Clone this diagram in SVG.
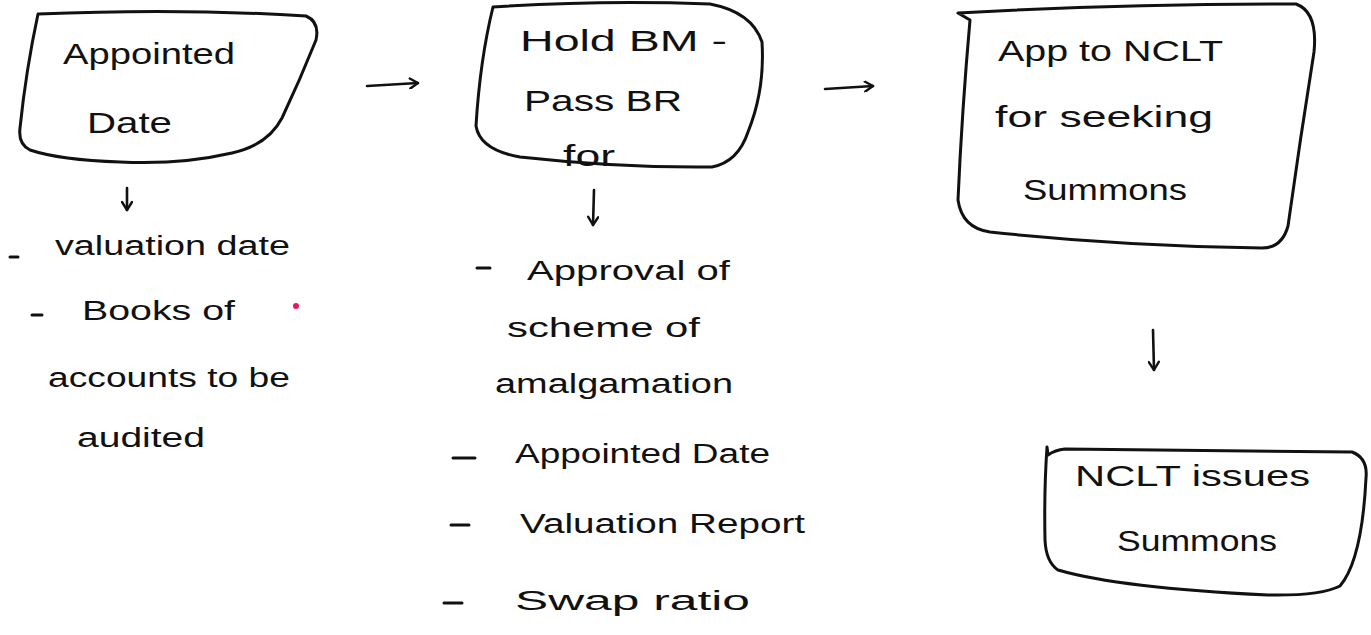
<svg xmlns="http://www.w3.org/2000/svg" width="1371" height="635" viewBox="0 0 1371 635">
  <defs>
    <style>
      .box { fill: none; stroke: #111; stroke-width: 3; stroke-linejoin: round; stroke-linecap: round; }
      .link { fill: none; stroke: #111; stroke-width: 2.6; stroke-linecap: round; }
      .hand { font-family: "Liberation Sans", "DejaVu Sans", sans-serif; font-size: 29px; fill: #111; }
      .note { font-family: "Liberation Sans", "DejaVu Sans", sans-serif; font-size: 27px; fill: #111; }
      .dash { stroke: #111; stroke-width: 3; stroke-linecap: round; }
    </style>
    <marker id="head" viewBox="0 0 12 12" refX="10" refY="6" markerWidth="12" markerHeight="12" markerUnits="userSpaceOnUse" orient="auto">
      <path d="M2,1 L10,6 L2,11" fill="none" stroke="#111" stroke-width="2.4" stroke-linecap="round" stroke-linejoin="round"/>
    </marker>
  </defs>

  <rect width="1371" height="635" fill="#fff"/>

  <!-- Step 1 -->
  <g id="node-appointed-date">
    <path class="box" d="M38,14 Q180,8 306,16 Q320,22 316,40 Q300,80 282,118 Q268,145 232,153 Q180,165 120,162 Q60,160 30,150 Q18,144 20,128 Q26,70 38,14 Z"/>
    <text class="hand" x="63" y="64" textLength="172" lengthAdjust="spacingAndGlyphs">Appointed</text>
    <text class="hand" x="87" y="133" textLength="85" lengthAdjust="spacingAndGlyphs">Date</text>
  </g>

  <!-- Step 2 -->
  <g id="node-hold-bm">
    <path class="box" d="M493,7 Q600,0 710,4 Q752,12 762,42 Q765,90 748,132 Q738,162 712,167 Q620,168 520,157 Q480,150 476,126 Q480,60 493,7 Z"/>
    <text class="hand" x="520" y="51" textLength="207" lengthAdjust="spacingAndGlyphs">Hold BM -</text>
    <text class="hand" x="524" y="111" textLength="158" lengthAdjust="spacingAndGlyphs">Pass BR</text>
    <text class="hand" x="563" y="166" textLength="52" lengthAdjust="spacingAndGlyphs">for</text>
  </g>

  <!-- Step 3 -->
  <g id="node-app-to-nclt">
    <path class="box" d="M958,13 Q1120,4 1296,4 Q1318,12 1314,52 Q1300,140 1288,226 Q1282,248 1262,248 Q1120,246 990,232 Q962,228 958,200 Q962,110 970,20 Z"/>
    <text class="hand" x="998" y="61" textLength="225" lengthAdjust="spacingAndGlyphs">App to NCLT</text>
    <text class="hand" x="995" y="127" textLength="218" lengthAdjust="spacingAndGlyphs">for seeking</text>
    <text class="hand" x="1023" y="200" textLength="164" lengthAdjust="spacingAndGlyphs">Summons</text>
  </g>

  <!-- Step 4 -->
  <g id="node-nclt-issues">
    <path class="box" d="M1047,447 L1048,455 Q1055,450 1065,449 Q1210,450 1352,452 Q1368,458 1366,478 Q1362,560 1340,586 Q1320,596 1268,595 Q1120,588 1058,570 Q1046,562 1045,540 Q1044,490 1047,447"/>
    <text class="hand" x="1075" y="486" textLength="235" lengthAdjust="spacingAndGlyphs">NCLT issues</text>
    <text class="hand" x="1117" y="551" textLength="160" lengthAdjust="spacingAndGlyphs">Summons</text>
  </g>

  <!-- Notes under step 1 -->
  <g id="notes-appointed-date">
    <line class="dash" x1="10" y1="257" x2="18" y2="257"/>
    <text class="note" x="55" y="255" textLength="235" lengthAdjust="spacingAndGlyphs">valuation date</text>
    <line class="dash" x1="32" y1="315" x2="42" y2="315"/>
    <text class="note" x="82" y="320" textLength="153" lengthAdjust="spacingAndGlyphs">Books of</text>
    <text class="note" x="48" y="387" textLength="242" lengthAdjust="spacingAndGlyphs">accounts to be</text>
    <text class="note" x="77" y="447" textLength="128" lengthAdjust="spacingAndGlyphs">audited</text>
    <circle cx="296" cy="306" r="3" fill="#e8175d"/>
  </g>

  <!-- Notes under step 2 -->
  <g id="notes-board-resolution">
    <line class="dash" x1="477" y1="268" x2="490" y2="268"/>
    <text class="note" x="527" y="280" textLength="203" lengthAdjust="spacingAndGlyphs">Approval of</text>
    <text class="note" x="507" y="337" textLength="193" lengthAdjust="spacingAndGlyphs">scheme of</text>
    <text class="note" x="495" y="393" textLength="238" lengthAdjust="spacingAndGlyphs">amalgamation</text>
    <line class="dash" x1="453" y1="458" x2="475" y2="458"/>
    <text class="note" x="515" y="463" textLength="255" lengthAdjust="spacingAndGlyphs">Appointed Date</text>
    <line class="dash" x1="451" y1="525" x2="469" y2="525"/>
    <text class="note" x="520" y="533" textLength="285" lengthAdjust="spacingAndGlyphs">Valuation Report</text>
    <line class="dash" x1="444" y1="603" x2="462" y2="603"/>
    <text class="note" x="515" y="610" textLength="235" lengthAdjust="spacingAndGlyphs">Swap ratio</text>
  </g>

  <!-- Connectors -->
  <g id="connectors">
    <path class="link" d="M367,86 L418,83" marker-end="url(#head)"/>
    <path class="link" d="M825,89 L873,86" marker-end="url(#head)"/>
    <path class="link" d="M127,188 L127,210" marker-end="url(#head)"/>
    <path class="link" d="M594,190 L593,225" marker-end="url(#head)"/>
    <path class="link" d="M1153,330 L1154,370" marker-end="url(#head)"/>
  </g>
</svg>
